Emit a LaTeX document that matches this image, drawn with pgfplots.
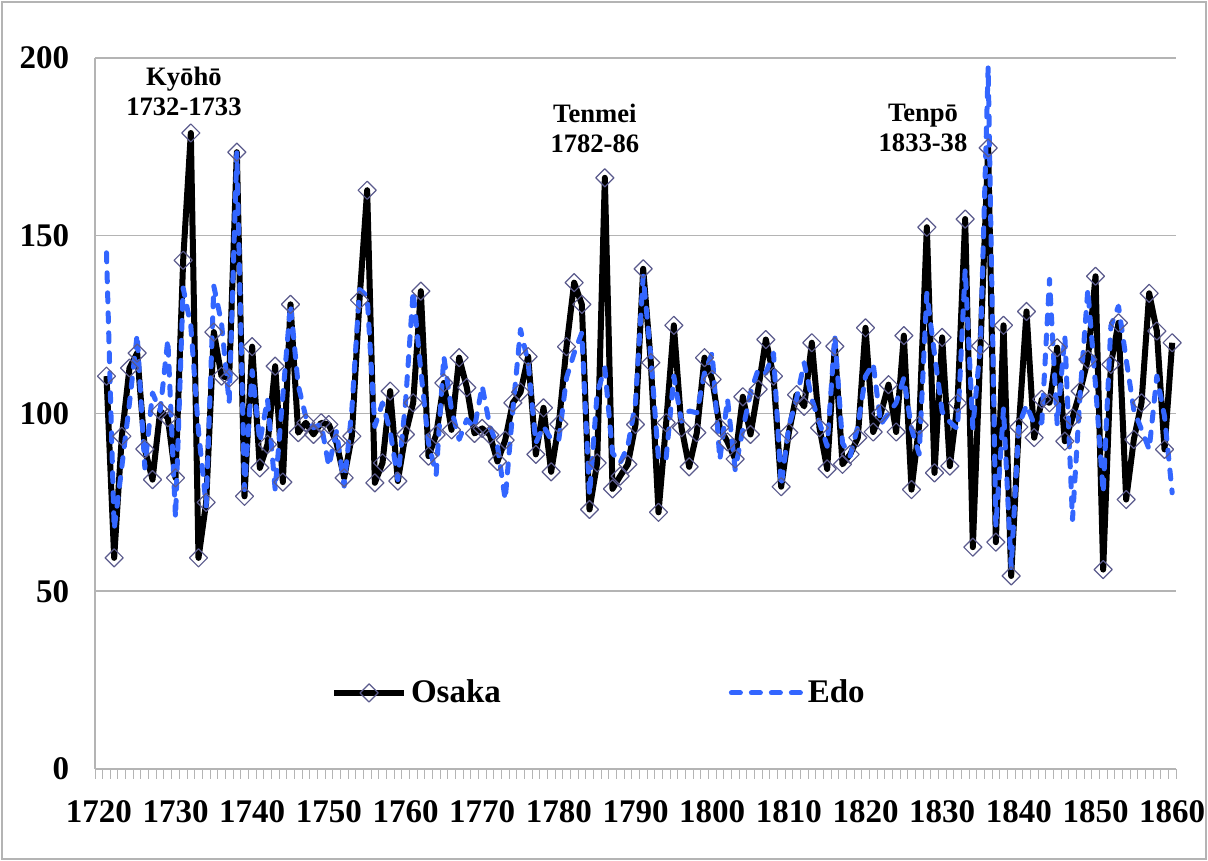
\documentclass[border=0pt]{standalone}
\usepackage{fontspec}
\setmainfont{Liberation Serif}
\usepackage{pgfplots}
\pgfplotsset{compat=1.18}
\usepackage{pgfplotstable}
\definecolor{edoblue}{HTML}{3366FF}
\definecolor{mk}{RGB}{90,90,140}
\definecolor{gridc}{RGB}{180,180,180}

\pgfplotstableread{
year osaka edo
1721 110.5 145.2
1722 59.4 67.4
1723 93.6 85
1724 112.8 103
1725 117 122.2
1726 90 84.7
1727 81.4 105.8
1728 100.7 100.7
1729 98.8 120.8
1730 81.9 70.7
1731 143.1 135.3
1732 178.9 124.6
1733 59.4 95
1734 75 74
1735 122.9 135.8
1736 110.5 125.5
1737 110 103
1738 173.5 173.3
1739 76.7 78.6
1740 118.8 112
1741 84.7 92
1742 91.3 104
1743 113.3 78.6
1744 80.7 105
1745 130.7 130.7
1746 94.6 108
1747 97.4 99
1748 94.1 96
1749 97.4 97
1750 96.9 85.2
1751 91.7 95
1752 81.9 79.6
1753 93.6 101
1754 131.9 134.9
1755 162.8 133
1756 80.5 96.4
1757 86.1 103
1758 106.3 95
1759 81 81.4
1760 94.1 103
1761 103 134.4
1762 134.4 112
1763 88 91.7
1764 94 82.8
1765 108.6 116
1766 95.4 101
1767 115.7 92.7
1768 107.3 98.3
1769 94.4 96
1770 95.8 107.7
1771 94 96.4
1772 86.5 90.8
1773 92.5 75.8
1774 103 101
1775 106 123.6
1776 116 114.3
1777 88.5 91.7
1778 101.6 96.4
1779 83.6 92.7
1780 97 92.7
1781 118.8 110
1782 136.8 117
1783 130.7 122.7
1784 73 77
1785 86.1 105.8
1786 166.3 112.8
1787 78.8 88.9
1788 82.4 86.1
1789 85.7 90.8
1790 96.9 103
1791 140.7 138.6
1792 114.3 116
1793 72.2 87
1794 97.4 87.5
1795 124.8 110.5
1796 96 97.8
1797 85 100.7
1798 94.6 100.2
1799 115.7 111.4
1800 109.6 117
1801 96 87
1802 92 104
1803 87.2 84.2
1804 104.7 95.5
1805 94.1 105.8
1806 106.8 112.4
1807 120.8 111.4
1808 110.5 117
1809 79.4 79.6
1810 94.6 96.4
1811 105.3 104
1812 102 114.3
1813 119.9 104
1814 96 97.4
1815 84.4 90.8
1816 118.9 121.8
1817 85.7 91.7
1818 88.5 88
1819 93.2 96.4
1820 124.1 110.5
1821 94.8 114
1822 100 97
1823 108.1 100
1824 94.8 103
1825 121.9 110
1826 78.6 95.7
1827 96.7 88.6
1828 152.4 133.8
1829 83.3 116.7
1830 121.4 100.5
1831 85.2 97.6
1832 102.9 95.7
1833 154.7 140.5
1834 62.4 96
1835 119 119.5
1836 174.7 197.6
1837 63.8 68.1
1838 124.8 101.4
1839 54.3 56.7
1840 96.2 96.7
1841 128.7 102.4
1842 93.2 97
1843 104 97.4
1844 103 137.7
1845 118.5 97
1846 92.2 121.8
1847 98.8 70.2
1848 106.3 105.8
1849 115.2 134.9
1850 138.6 108
1851 56.1 77.7
1852 113.8 124.6
1853 125.5 130.2
1854 75.8 115.2
1855 92.7 101
1856 103 95.5
1857 133.8 89.9
1858 123.2 110.5
1859 89.9 99.2
1860 119.9 77.7
}\data

\begin{document}
\begin{tikzpicture}
\path (0,0) rectangle (604bp,430.5bp);
\draw[gridc, line width=0.6bp] (1bp,1bp) rectangle (603bp,429.5bp);
\begin{axis}[
  at={(47.5bp,46bp)}, anchor=south west,
  scale only axis, width=540.5bp, height=355.5bp,
  xmin=1719.5, xmax=1860.5, ymin=0, ymax=200,
  clip=false,
  axis x line=bottom, axis y line=left,
  axis line style={-, draw=gridc, line width=0.75bp},
  xtick={1720,1730,...,1860},
  ytick={0,50,...,200},
  minor xtick={1719.5,1720.5,...,1860.5},
  major x tick style={draw=none},
  ytick style={draw=none},
  minor x tick style={draw=gridc, line width=0.5bp},
  tick align=outside,
  minor tick length=5bp,
  ymajorgrids=true,
  major grid style={draw=gridc, line width=0.75bp},
  /pgf/number format/assume math mode=true,
  /pgf/number format/1000 sep={},
  ticklabel style={font=\bfseries\fontsize{16.5bp}{16.5bp}\selectfont, inner sep=0pt},
  xticklabel style={yshift=-11.5bp},
  yticklabel style={xshift=-8.5bp},
  legend columns=2,
  legend style={at={(0.218,0.107)}, anchor=west, draw=none, fill=none, inner sep=0pt,
    font=\bfseries\fontsize{16.5bp}{16.5bp}\selectfont,
    /tikz/every even column/.append style={column sep=112bp}},
  legend cell align=left,
  legend image code/.code={\draw[mark repeat=2,mark phase=2,#1] plot coordinates {(0bp,0bp) (17.5bp,0bp) (35bp,0bp)};},
]
\addplot[black, line width=3bp, line join=round,
  mark=square, mark size=3.2bp,
  mark options={rotate=45, draw=mk, fill=none, solid, line width=0.6bp}]
  table[x=year, y=osaka] {\data};
\addlegendentry{Osaka}
\addplot[edoblue, line width=2.5bp, line cap=round, line join=round,
  dash pattern=on 4.5bp off 5.5bp]
  table[x=year, y=edo] {\data};
\addlegendentry{Edo}
\node[font=\bfseries\fontsize{13.3bp}{15bp}\selectfont, align=center] at (axis cs:1731.1,190.5) {Kyōhō\\1732-1733};
\node[font=\bfseries\fontsize{13.3bp}{15bp}\selectfont, align=center] at (axis cs:1784.7,180.1) {Tenmei\\1782-86};
\node[font=\bfseries\fontsize{13.3bp}{15bp}\selectfont, align=center] at (axis cs:1827.5,180.2) {Tenpō\\1833-38};
\end{axis}
\end{tikzpicture}
\end{document}
